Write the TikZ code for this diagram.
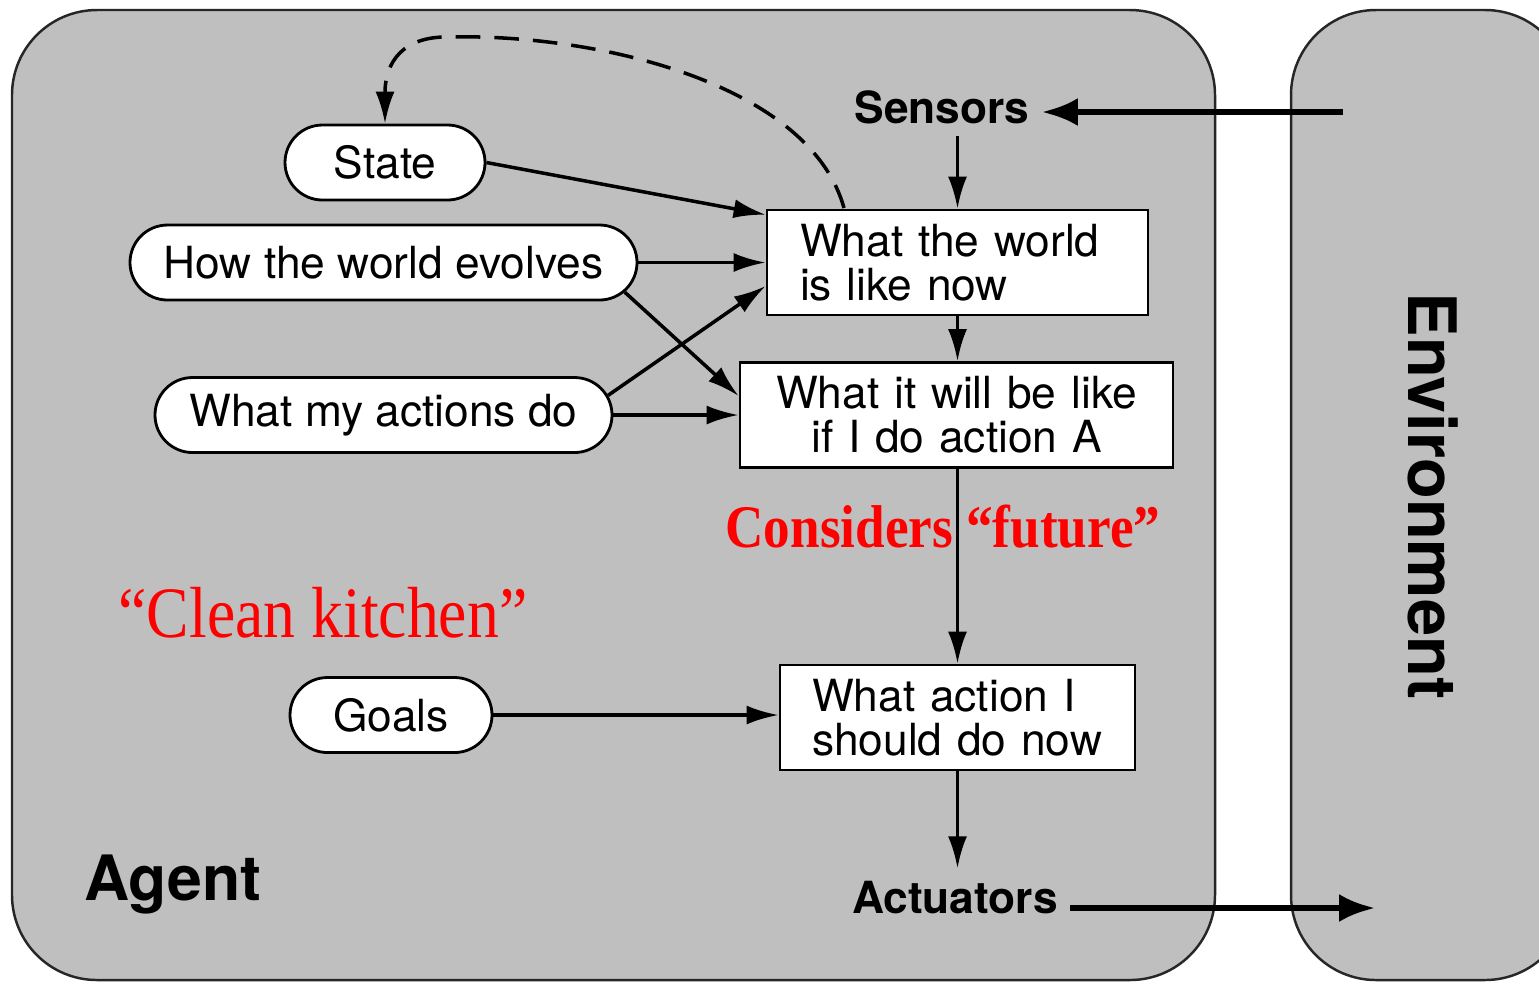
\documentclass[tikz,border=0pt]{standalone}
\usepackage{fontspec}
\setmainfont{TeX Gyre Heros}
\newfontfamily\notefont[FakeStretch=0.88]{Liberation Serif}
\usetikzlibrary{arrows.meta,shapes.misc}

\definecolor{panelgray}{RGB}{191,191,191}
\newcommand\boxfont{\fontsize{12.6}{12.6}\selectfont}

\tikzset{
  panel/.style={draw=black!85, line width=0.7pt, fill=panelgray, rounded corners=0.85cm},
  belief/.style={draw, line width=0.8pt, fill=white, rounded rectangle, inner xsep=0pt,
                 minimum height=0.75cm, font=\boxfont},
  stage/.style={draw, line width=0.8pt, fill=white, minimum height=1.05cm, font=\boxfont},
  port/.style={font=\boxfont\bfseries},
  note/.style={text=red, font=\notefont},
  flow/.style={line width=1pt, -{Latex[length=3.2mm,width=1.9mm]}},
  wide/.style={line width=1.8pt, -{Latex[length=3.6mm,width=2.8mm]}},
  loopback/.style={line width=1pt, dash pattern=on 7pt off 4pt, -{Latex[length=3.2mm,width=1.9mm]}},
}

\begin{document}
\begin{tikzpicture}
  \useasboundingbox (0,0) rectangle (15.39,-9.83);

  % agent and environment panels
  \begin{scope}
    \clip (0,0) rectangle (15.39,-9.83);
    \draw[panel] (0.12,-0.10) rectangle (12.15,-9.80);
    \draw[panel] (12.91,-0.10) rectangle (15.70,-9.80);
  \end{scope}

  \node[anchor=base west, font=\fontsize{17.8}{17.8}\selectfont\bfseries] (agent) at (0.72,-9.00) {Agent};
  \node[rotate=-90, font=\fontsize{19}{19}\selectfont\bfseries] (env) at (14.33,-4.96) {Environment};

  % knowledge the agent keeps
  \node[belief, minimum width=2.00cm] (state)  at (3.850,-1.625) {State};
  \node[belief, minimum width=5.07cm] (evolve) at (3.835,-2.625) {How the world evolves};
  \node[belief, minimum width=4.57cm] (acts)   at (3.835,-4.150) {What my actions do};
  \node[belief, minimum width=2.02cm] (goals)  at (3.910,-7.150) {Goals};

  % inner stages
  \node[stage, text width=3.15cm, align=left, inner xsep=0.33cm] (wnow) at (9.575,-2.625)
    {What the world\\is like now};
  \node[stage, text width=4.05cm, align=center, inner xsep=0.14cm] (wfut) at (9.565,-4.150)
    {What it will be like\\if I do action A};
  \node[stage, text width=2.91cm, align=left, inner xsep=0.32cm] (wact) at (9.575,-7.175)
    {What action I\\should do now};

  \node[port, anchor=base] (sensors)   at (9.42,-1.23) {Sensors};
  \node[port, anchor=base] (actuators) at (9.55,-9.13) {Actuators};

  \coordinate (envin)     at (13.43,-1.12);
  \coordinate (envout)    at (13.75,-9.08);
  \coordinate (loopstart) at (8.44,-2.08);

  % connectors
  \draw[wide] (envin) -- (envin -| sensors.east);
  \draw[flow] (sensors.south -| wnow.north) -- (wnow.north);
  \draw[flow] (state.east) -- (wnow.166);
  \draw[flow] (evolve.east) -- (wnow.west);
  \draw[flow] (evolve.-7) -- (wfut.175);
  \draw[flow] (acts.5) -- (wnow.187);
  \draw[flow] (acts.east) -- (wfut.west);
  \draw[flow] (wnow.south) -- (wnow.south |- wfut.north);
  \draw[flow] (wfut.south -| wact.north) -- (wact.north);
  \draw[flow] (goals.east) -- (goals.east -| wact.west);
  \draw[flow] (wact.south) -- (wact.south |- actuators.north);
  \draw[wide] (actuators.east |- envout) -- (envout);
  \draw[loopback] (loopstart) .. controls (8.10,-0.85) and (6.00,-0.33) .. (4.46,-0.37)
                  .. controls (4.05,-0.37) and (3.85,-0.60) .. (state.north);

  % red remarks
  \node[note, anchor=base, font=\notefont\fontsize{17.2}{17.2}\selectfont\bfseries] (future)
    at (9.43,-5.47) {Considers “future”};
  \node[note, anchor=base, font=\notefont\fontsize{20.6}{20.6}\selectfont] (kitchen)
    at (3.23,-6.37) {“Clean kitchen”};
\end{tikzpicture}
\end{document}
